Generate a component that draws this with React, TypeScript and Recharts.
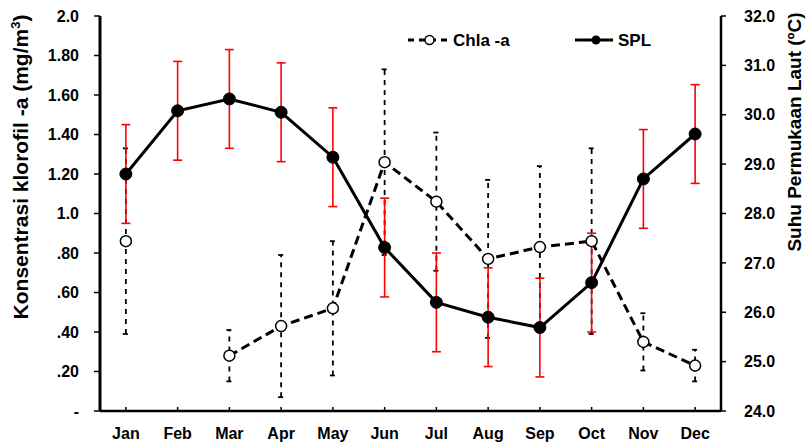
import React from 'react';
import { ComposedChart, Line, XAxis, YAxis, ErrorBar, Legend } from 'recharts';

const months = ['Jan', 'Feb', 'Mar', 'Apr', 'May', 'Jun', 'Jul', 'Aug', 'Sep', 'Oct', 'Nov', 'Dec'];
const chla: (number | null)[] = [0.86, null, 0.28, 0.43, 0.52, 1.26, 1.06, 0.77, 0.83, 0.86, 0.35, 0.23];
const chlaErr: (number | null)[] = [0.47, null, 0.13, 0.36, 0.34, 0.47, 0.35, 0.4, 0.41, 0.47, 0.145, 0.08];
const spl = [28.8, 30.08, 30.32, 30.05, 29.14, 27.31, 26.2, 25.9, 25.69, 26.6, 28.7, 29.61];
const splErr = [1.0, 1.0, 1.0, 1.0, 1.0, 1.0, 1.0, 1.0, 1.0, 1.0, 1.0, 1.0];

const leftTicks = [0, 0.2, 0.4, 0.6, 0.8, 1.0, 1.2, 1.4, 1.6, 1.8, 2.0];
const leftTickLabels = ['-', '.20', '.40', '.60', '.80', '1.0', '1.20', '1.40', '1.60', '1.80', '2.0'];
const rightTicks = [24, 25, 26, 27, 28, 29, 30, 31, 32];
const rightTickLabels = ['24.0', '25.0', '26.0', '27.0', '28.0', '29.0', '30.0', '31.0', '32.0'];

const leftTitle = 'Konsentrasi klorofil -a (mg/m';
const rightTitle = 'Suhu Permukaan Laut (ºC)';

const data = months.map((m, i) => ({
  month: m,
  chla: chla[i],
  chlaErr: chlaErr[i],
  spl: spl[i],
  splErr: splErr[i],
}));

const FONT = '"Liberation Sans", Arial, sans-serif';
const tickStyle = { fontFamily: FONT, fontWeight: 700, fontSize: 16, fill: '#000' };

const LegendContent = () => (
  <svg width={260} height={24} style={{ display: 'block' }}>
    <line x1={3} y1={12} x2={43} y2={12} stroke="#000" strokeWidth={3} strokeDasharray="6 5" />
    <circle cx={24.5} cy={12} r={4.5} fill="#fff" stroke="#000" strokeWidth={1.5} />
    <text x={48} y={18} style={{ fontFamily: FONT, fontWeight: 700, fontSize: 17 }} fill="#000">Chla -a</text>
    <line x1={170} y1={12} x2={208} y2={12} stroke="#000" strokeWidth={3} />
    <circle cx={191} cy={12} r={4.5} fill="#000" />
    <text x={213} y={18} style={{ fontFamily: FONT, fontWeight: 700, fontSize: 17 }} fill="#000">SPL</text>
  </svg>
);

const LeftTitle = (props: any) => {
  const vb = props.viewBox || {};
  const x = vb.x + 28;
  const y = vb.y + 151;
  return (
    <text x={x} y={y} transform={`rotate(-90, ${x}, ${y})`} textAnchor="middle"
      style={{ fontFamily: FONT, fontWeight: 700, fontSize: 21 }} fill="#000">
      {leftTitle}
      <tspan fontSize={13} dy={-8}>3</tspan>
      <tspan dy={8}>)</tspan>
    </text>
  );
};

const RightTitle = (props: any) => {
  const vb = props.viewBox || {};
  const x = vb.x + 80;
  const y = vb.y + 116;
  return (
    <text x={x} y={y} transform={`rotate(-90, ${x}, ${y})`} textAnchor="middle"
      style={{ fontFamily: FONT, fontWeight: 700, fontSize: 19 }} fill="#000">
      {rightTitle}
    </text>
  );
};

export default function App() {
  return (
    <div style={{ position: 'absolute', left: 0, top: 0, width: 807, height: 446, background: '#fff' }}>
      <ComposedChart width={807} height={446} data={data} margin={{ top: 16, right: 0, bottom: 0, left: 0 }}>
        <XAxis
          dataKey="month"
          scale="band"
          height={35}
          tick={tickStyle}
          tickSize={-4}
          tickMargin={21}
          axisLine={{ stroke: '#000', strokeWidth: 2.5 }}
          tickLine={{ stroke: '#000', strokeWidth: 1.5 }}
          interval={0}
        />
        <YAxis
          yAxisId="left"
          orientation="left"
          width={100}
          domain={[0, 2]}
          ticks={leftTicks}
          tickFormatter={(_v: number, i: number) => leftTickLabels[i]}
          tick={tickStyle}
          tickSize={6}
          tickMargin={15}
          axisLine={{ stroke: '#000', strokeWidth: 3 }}
          tickLine={{ stroke: '#000', strokeWidth: 1.5 }}
          interval={0}
          label={{ content: LeftTitle }}
        />
        <YAxis
          yAxisId="right"
          orientation="right"
          width={86}
          domain={[24, 32]}
          ticks={rightTicks}
          tickFormatter={(_v: number, i: number) => rightTickLabels[i]}
          tick={tickStyle}
          tickSize={5}
          tickMargin={18}
          axisLine={{ stroke: '#000', strokeWidth: 2.5 }}
          tickLine={{ stroke: '#000', strokeWidth: 1.5 }}
          interval={0}
          label={{ content: RightTitle }}
        />
        <Legend
          layout="horizontal"
          verticalAlign="middle"
          align="center"
          wrapperStyle={{ left: 405, top: 28, width: 260, height: 24 }}
          content={LegendContent}
        />
        <Line
          yAxisId="left"
          dataKey="chla"
          stroke="#000"
          strokeWidth={3}
          strokeDasharray="9 5"
          dot={{ r: 5.5, fill: '#fff', stroke: '#000', strokeWidth: 1.5, strokeDasharray: '' }}
          connectNulls={false}
          isAnimationActive={false}
        >
          <ErrorBar dataKey="chlaErr" direction="y" width={3} stroke="#000" strokeWidth={1.8} strokeDasharray="5 5" />
        </Line>
        <Line
          yAxisId="right"
          dataKey="spl"
          stroke="#000"
          strokeWidth={3}
          dot={{ r: 6, fill: '#000', stroke: '#000', strokeWidth: 1 }}
          isAnimationActive={false}
        >
          <ErrorBar dataKey="splErr" direction="y" width={4.5} stroke="#ff0000" strokeWidth={1.6} />
        </Line>
      </ComposedChart>
    </div>
  );
}
